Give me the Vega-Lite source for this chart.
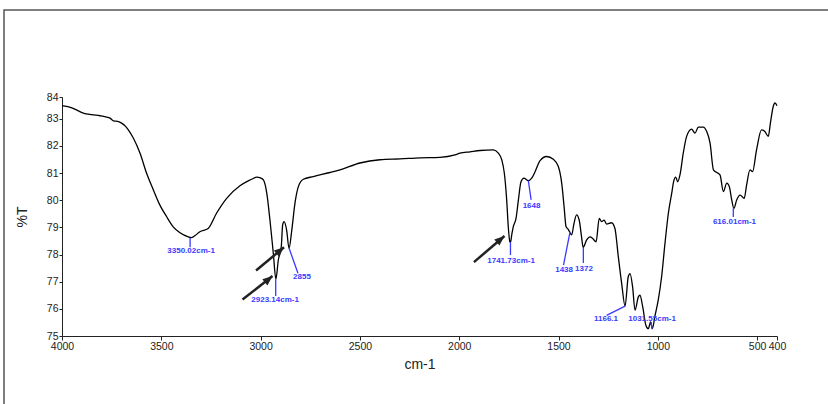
{
  "$schema": "https://vega.github.io/schema/vega-lite/v6.json",
  "width": 715,
  "height": 239,
  "autosize": {"type": "none"},
  "padding": {"left": 62, "top": 97, "right": 51, "bottom": 68},
  "background": "white",
  "config": {
    "view": {"stroke": null},
    "font": "Liberation Sans",
    "axis": {"labelFont": "Liberation Sans", "titleFont": "Liberation Sans", "labelColor": "#222", "titleColor": "#222", "domainColor": "#222", "tickColor": "#222", "grid": false, "titleFontWeight": "normal", "labelOverlap": false, "labelFlush": false, "labelFontSize": 10.5, "titleFontSize": 14, "labelPadding": 1},
    "axisX": {"tickSize": 4, "titlePadding": 6},
    "axisY": {"tickSize": 3, "titlePadding": 17}
  },
  "datasets": {
    "spectrum": [
      {"wn": 4000, "T": 83.48}, {"wn": 3950, "T": 83.4}, {"wn": 3893, "T": 83.21}, {"wn": 3850, "T": 83.15},
      {"wn": 3809, "T": 83.11}, {"wn": 3780, "T": 83.07}, {"wn": 3758, "T": 83.02}, {"wn": 3740, "T": 82.92},
      {"wn": 3720, "T": 82.9}, {"wn": 3700, "T": 82.84}, {"wn": 3680, "T": 82.72}, {"wn": 3666, "T": 82.59},
      {"wn": 3641, "T": 82.29}, {"wn": 3607, "T": 81.73}, {"wn": 3574, "T": 80.99}, {"wn": 3540, "T": 80.38},
      {"wn": 3507, "T": 79.82}, {"wn": 3473, "T": 79.39}, {"wn": 3440, "T": 79.02}, {"wn": 3406, "T": 78.8},
      {"wn": 3364, "T": 78.65}, {"wn": 3350, "T": 78.62}, {"wn": 3330, "T": 78.7}, {"wn": 3306, "T": 78.84},
      {"wn": 3264, "T": 78.96}, {"wn": 3222, "T": 79.52}, {"wn": 3171, "T": 80.07}, {"wn": 3104, "T": 80.53},
      {"wn": 3060, "T": 80.72}, {"wn": 3037, "T": 80.8}, {"wn": 3020, "T": 80.85}, {"wn": 3000, "T": 80.82},
      {"wn": 2986, "T": 80.75}, {"wn": 2969, "T": 80.26}, {"wn": 2953, "T": 79.27}, {"wn": 2936, "T": 78.04},
      {"wn": 2923, "T": 77.09}, {"wn": 2911, "T": 77.79}, {"wn": 2896, "T": 78.28}, {"wn": 2889, "T": 79.09},
      {"wn": 2882, "T": 79.21}, {"wn": 2869, "T": 78.9}, {"wn": 2857, "T": 78.23}, {"wn": 2843, "T": 78.9},
      {"wn": 2827, "T": 79.89}, {"wn": 2810, "T": 80.5}, {"wn": 2785, "T": 80.77}, {"wn": 2735, "T": 80.87},
      {"wn": 2651, "T": 81.02}, {"wn": 2600, "T": 81.12}, {"wn": 2500, "T": 81.37}, {"wn": 2399, "T": 81.49},
      {"wn": 2298, "T": 81.52}, {"wn": 2197, "T": 81.56}, {"wn": 2097, "T": 81.58}, {"wn": 2021, "T": 81.67},
      {"wn": 1996, "T": 81.73}, {"wn": 1946, "T": 81.78}, {"wn": 1895, "T": 81.83}, {"wn": 1828, "T": 81.85},
      {"wn": 1803, "T": 81.73}, {"wn": 1786, "T": 81.49}, {"wn": 1773, "T": 81.0}, {"wn": 1761, "T": 80.01},
      {"wn": 1753, "T": 79.02}, {"wn": 1745, "T": 78.47}, {"wn": 1742, "T": 78.45}, {"wn": 1735, "T": 78.75},
      {"wn": 1728, "T": 79.02}, {"wn": 1714, "T": 79.33}, {"wn": 1702, "T": 80.01}, {"wn": 1689, "T": 80.68},
      {"wn": 1674, "T": 80.81}, {"wn": 1652, "T": 80.72}, {"wn": 1635, "T": 80.81}, {"wn": 1618, "T": 81.05},
      {"wn": 1593, "T": 81.46}, {"wn": 1560, "T": 81.61}, {"wn": 1526, "T": 81.51}, {"wn": 1501, "T": 81.24},
      {"wn": 1484, "T": 80.63}, {"wn": 1472, "T": 79.76}, {"wn": 1462, "T": 79.02}, {"wn": 1451, "T": 78.93},
      {"wn": 1434, "T": 78.72}, {"wn": 1422, "T": 79.15}, {"wn": 1409, "T": 79.46}, {"wn": 1396, "T": 79.27},
      {"wn": 1384, "T": 78.65}, {"wn": 1376, "T": 78.26}, {"wn": 1359, "T": 78.53}, {"wn": 1342, "T": 78.65},
      {"wn": 1328, "T": 78.59}, {"wn": 1311, "T": 78.47}, {"wn": 1295, "T": 79.33}, {"wn": 1283, "T": 79.21},
      {"wn": 1271, "T": 79.27}, {"wn": 1258, "T": 79.12}, {"wn": 1233, "T": 79.17}, {"wn": 1216, "T": 78.96},
      {"wn": 1199, "T": 77.92}, {"wn": 1182, "T": 76.93}, {"wn": 1165, "T": 76.1}, {"wn": 1149, "T": 77.18},
      {"wn": 1140, "T": 77.3}, {"wn": 1127, "T": 76.81}, {"wn": 1115, "T": 75.95}, {"wn": 1098, "T": 76.44},
      {"wn": 1090, "T": 76.5}, {"wn": 1076, "T": 76.07}, {"wn": 1060, "T": 75.39}, {"wn": 1048, "T": 75.27},
      {"wn": 1036, "T": 75.52}, {"wn": 1028, "T": 75.27}, {"wn": 1014, "T": 75.76}, {"wn": 998, "T": 76.32},
      {"wn": 981, "T": 77.18}, {"wn": 964, "T": 78.41}, {"wn": 947, "T": 79.52}, {"wn": 930, "T": 80.26},
      {"wn": 920, "T": 80.7}, {"wn": 910, "T": 80.85}, {"wn": 900, "T": 80.68}, {"wn": 888, "T": 80.95},
      {"wn": 872, "T": 81.73}, {"wn": 855, "T": 82.35}, {"wn": 830, "T": 82.62}, {"wn": 813, "T": 82.47},
      {"wn": 796, "T": 82.69}, {"wn": 771, "T": 82.69}, {"wn": 754, "T": 82.53}, {"wn": 737, "T": 82.1},
      {"wn": 720, "T": 81.12}, {"wn": 703, "T": 81.02}, {"wn": 687, "T": 80.93}, {"wn": 670, "T": 80.32},
      {"wn": 653, "T": 80.63}, {"wn": 640, "T": 80.5}, {"wn": 628, "T": 80.01}, {"wn": 617, "T": 79.7},
      {"wn": 603, "T": 80.01}, {"wn": 586, "T": 80.19}, {"wn": 565, "T": 80.07}, {"wn": 553, "T": 80.56},
      {"wn": 536, "T": 81.12}, {"wn": 523, "T": 81.05}, {"wn": 503, "T": 81.85}, {"wn": 478, "T": 82.59},
      {"wn": 461, "T": 82.53}, {"wn": 444, "T": 82.35}, {"wn": 432, "T": 82.9}, {"wn": 419, "T": 83.45},
      {"wn": 410, "T": 83.58}, {"wn": 400, "T": 83.48}
    ],
    "peaks": [
      {"label": "3350.02cm-1", "tx": 3350, "ty": 78.13, "x1": 3355, "y1": 78.62, "x2": 3355, "y2": 78.27},
      {"label": "2923.14cm-1", "tx": 2927, "ty": 76.32, "x1": 2924, "y1": 77.09, "x2": 2924, "y2": 76.47},
      {"label": "2855", "tx": 2792, "ty": 77.17, "x1": 2857, "y1": 78.24, "x2": 2812, "y2": 77.31},
      {"label": "1741.73cm-1", "tx": 1739, "ty": 77.76, "x1": 1742, "y1": 78.46, "x2": 1742, "y2": 77.98},
      {"label": "1648", "tx": 1636, "ty": 79.79, "x1": 1652, "y1": 80.72, "x2": 1638, "y2": 80.01},
      {"label": "1438", "tx": 1472, "ty": 77.43, "x1": 1442, "y1": 78.83, "x2": 1475, "y2": 77.61},
      {"label": "1372", "tx": 1372, "ty": 77.46, "x1": 1375, "y1": 78.24, "x2": 1375, "y2": 77.69},
      {"label": "1166.1", "tx": 1261, "ty": 75.62, "x1": 1165, "y1": 76.1, "x2": 1258, "y2": 75.76},
      {"label": "1031.55cm-1", "tx": 1029, "ty": 75.63, "x1": 1029, "y1": 75.25, "x2": 1034, "y2": 75.51},
      {"label": "616.01cm-1", "tx": 614, "ty": 79.2, "x1": 620, "y1": 79.7, "x2": 620, "y2": 79.38}
    ],
    "arrows": [
      {"xa": 3091, "ya": 76.34, "xb": 2940, "yb": 77.21},
      {"xa": 3023, "ya": 77.41, "xb": 2882, "yb": 78.27},
      {"xa": 1926, "ya": 77.72, "xb": 1772, "yb": 78.68}
    ]
  },
  "layer": [
    {
      "data": {"name": "spectrum"},
      "mark": {"type": "line", "color": "black", "strokeWidth": 1.3, "interpolate": "monotone"},
      "encoding": {
        "x": {
          "field": "wn", "type": "quantitative",
          "scale": {"domain": [400, 4000], "reverse": true, "nice": false, "zero": false},
          "axis": {"title": "cm-1", "values": [4000, 3500, 3000, 2500, 2000, 1500, 1000, 500, 400], "format": "d"}
        },
        "y": {
          "field": "T", "type": "quantitative",
          "scale": {"domain": [75, 83.8], "nice": false, "zero": false},
          "axis": {"title": "%T", "values": [75, 76, 77, 78, 79, 80, 81, 82, 83, 83.8], "labelExpr": "datum.value > 83.5 ? '84' : format(datum.value, 'd')"}
        }
      }
    },
    {
      "data": {"values": [{}]},
      "mark": {"type": "rect", "filled": false, "color": "#555", "strokeWidth": 1.5, "clip": false},
      "encoding": {
        "x": {"datum": 4292, "type": "quantitative", "axis": {"title": "cm-1", "values": [4000, 3500, 3000, 2500, 2000, 1500, 1000, 500, 400], "format": "d"}},
        "x2": {"datum": 0},
        "y": {"datum": 87.0, "type": "quantitative", "axis": {"title": "%T", "values": [75, 76, 77, 78, 79, 80, 81, 82, 83, 83.8], "labelExpr": "datum.value > 83.5 ? '84' : format(datum.value, 'd')"}},
        "y2": {"datum": 70}
      }
    },
    {
      "data": {"name": "peaks"},
      "mark": {"type": "rule", "color": "#3a3aff", "strokeWidth": 1.3},
      "encoding": {
        "x": {"field": "x1", "type": "quantitative", "axis": {"title": "cm-1", "values": [4000, 3500, 3000, 2500, 2000, 1500, 1000, 500, 400], "format": "d"}},
        "y": {"field": "y1", "type": "quantitative", "axis": {"title": "%T", "values": [75, 76, 77, 78, 79, 80, 81, 82, 83, 83.8], "labelExpr": "datum.value > 83.5 ? '84' : format(datum.value, 'd')"}},
        "x2": {"field": "x2"},
        "y2": {"field": "y2"}
      }
    },
    {
      "data": {"name": "peaks"},
      "mark": {"type": "text", "color": "#3a3aff", "fontSize": 8, "fontWeight": "bold", "font": "Liberation Sans", "align": "center", "baseline": "middle"},
      "encoding": {
        "x": {"field": "tx", "type": "quantitative", "axis": {"title": "cm-1", "values": [4000, 3500, 3000, 2500, 2000, 1500, 1000, 500, 400], "format": "d"}},
        "y": {"field": "ty", "type": "quantitative", "axis": {"title": "%T", "values": [75, 76, 77, 78, 79, 80, 81, 82, 83, 83.8], "labelExpr": "datum.value > 83.5 ? '84' : format(datum.value, 'd')"}},
        "text": {"field": "label"}
      }
    },
    {
      "data": {"name": "arrows"},
      "mark": {"type": "rule", "color": "#222", "strokeWidth": 2.5},
      "encoding": {
        "x": {"field": "xa", "type": "quantitative", "axis": {"title": "cm-1", "values": [4000, 3500, 3000, 2500, 2000, 1500, 1000, 500, 400], "format": "d"}},
        "y": {"field": "ya", "type": "quantitative", "axis": {"title": "%T", "values": [75, 76, 77, 78, 79, 80, 81, 82, 83, 83.8], "labelExpr": "datum.value > 83.5 ? '84' : format(datum.value, 'd')"}},
        "x2": {"field": "xb"},
        "y2": {"field": "yb"}
      }
    },
    {
      "data": {"name": "arrows"},
      "mark": {"type": "point", "filled": true, "color": "#222", "opacity": 1, "shape": "M0,0L-0.8,2L0.8,2Z", "size": 100, "angle": 50},
      "encoding": {
        "x": {"field": "xb", "type": "quantitative", "axis": {"title": "cm-1", "values": [4000, 3500, 3000, 2500, 2000, 1500, 1000, 500, 400], "format": "d"}},
        "y": {"field": "yb", "type": "quantitative", "axis": {"title": "%T", "values": [75, 76, 77, 78, 79, 80, 81, 82, 83, 83.8], "labelExpr": "datum.value > 83.5 ? '84' : format(datum.value, 'd')"}}
      }
    }
  ]
}
